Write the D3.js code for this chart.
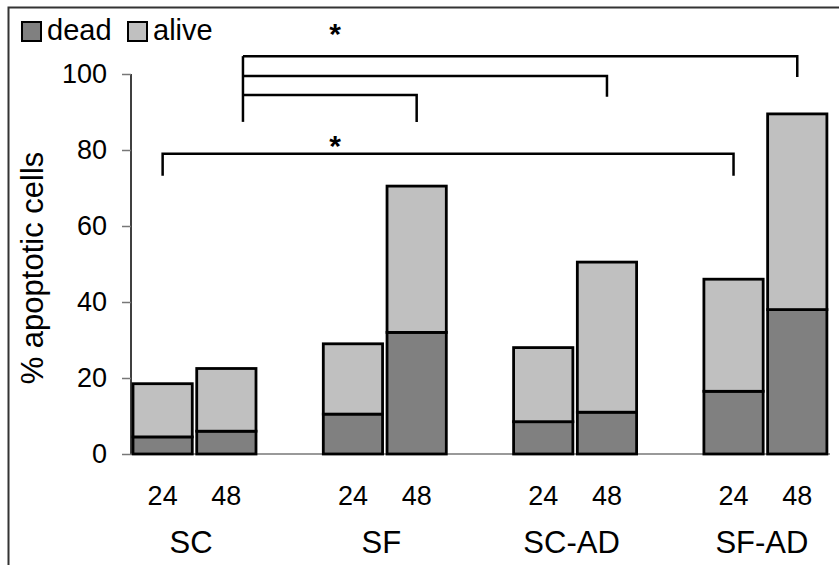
<!DOCTYPE html>
<html>
<head>
<meta charset="utf-8">
<script src="https://cdn.jsdelivr.net/npm/d3@7"></script>
<style>
  body { margin: 0; background: #fff; }
  svg { font-family: "Liberation Sans", Arial, sans-serif; }
</style>
</head>
<body>
<div id="chart"></div>
<script>
let groups = ["SC", "SF", "SC-AD", "SF-AD"];
let times = ["24", "48"];
let dead  = [4.5, 6, 10.5, 32, 8.5, 11, 16.5, 38];
let total = [18.5, 22.5, 29, 70.5, 28, 50.5, 46, 89.5];
let yTicks = [0, 20, 40, 60, 80, 100];
// brackets: [group, time, frac] -> [group, time, frac], bar level, drop-to level, star level
let brackets = [
    {from: ["SC", "48", 0.78], to: ["SF-AD", "48", 0.5], y: 104.7, end: 99.2, star: 112.4},
    {from: ["SC", "48", 0.78], to: ["SC-AD", "48", 0.5], y: 99.5, end: 94, star: null},
    {from: ["SC", "48", 0.78], to: ["SF", "48", 0.5], y: 94.5, end: 87.4, star: null},
    {from: ["SC", "24", 0.5], to: ["SF-AD", "24", 0.5], y: 79, end: 73.2, star: 82.9}
];

let plotData = [];
groups.forEach((g, i) => times.forEach((t, j) => {
    let k = i * 2 + j;
    plotData.push({"group": g, "time": t, "dead": dead[k], "alive": total[k] - dead[k]});
}));

let width = 839, height = 565;
let svg = d3.select("#chart").append("svg")
    .attr("width", width).attr("height", height);

// outer frame
svg.append("rect")
    .attr("x", 8.5).attr("y", 7.5)
    .attr("width", 900).attr("height", 600)
    .attr("fill", "none").attr("stroke", "#333").attr("stroke-width", 2);

let y = d3.scaleLinear().domain([0, 100]).range([454, 74]);
let x0 = d3.scaleBand().domain(groups).range([133, 133 + 4 * 190.3]);
let x1 = d3.scaleBand().domain(times).range([0, 123]).paddingInner(0.07);
let bx = (g, t, f) => x0(g) + x1(t) + x1.bandwidth() * f;

// y axis
let yAxis = svg.append("g")
    .attr("transform", "translate(131,0)")
    .call(d3.axisLeft(y).tickValues(yTicks).tickSize(9).tickPadding(15));
yAxis.select(".domain").attr("stroke", "#000").attr("stroke-width", 1.5).attr("d", "M0,74V454");
yAxis.selectAll(".tick line").attr("stroke", "#777").attr("stroke-width", 1.5);
yAxis.selectAll(".tick text")
    .attr("font-size", 27).attr("fill", "#000")
    .attr("font-family", "Liberation Sans, Arial, sans-serif");

// base line
svg.append("line")
    .attr("x1", 131).attr("x2", 830)
    .attr("y1", y(0)).attr("y2", y(0))
    .attr("stroke", "#777").attr("stroke-width", 1.5);

// stacked bars
let stack = d3.stack().keys(["dead", "alive"])(plotData);
let colors = {"dead": "#808080", "alive": "#c0c0c0"};
svg.selectAll("g.layer")
    .data(stack)
    .join("g")
        .attr("class", "layer")
        .attr("fill", d => colors[d.key])
    .selectAll("rect")
    .data(d => d)
    .join("rect")
        .attr("x", d => x0(d.data.group) + x1(d.data.time))
        .attr("y", d => y(d[1]))
        .attr("width", x1.bandwidth())
        .attr("height", d => y(d[0]) - y(d[1]))
        .attr("stroke", "#000")
        .attr("stroke-width", 2.8);

// time labels
svg.selectAll("text.time")
    .data(plotData)
    .join("text")
        .attr("class", "time")
        .attr("text-anchor", "middle")
        .attr("font-size", 27)
        .attr("x", d => x0(d.group) + x1(d.time) + x1.bandwidth() / 2)
        .attr("y", 505)
        .text(d => d.time);

// group labels
svg.selectAll("text.group")
    .data(groups)
    .join("text")
        .attr("class", "group")
        .attr("text-anchor", "middle")
        .attr("font-size", 31)
        .attr("x", d => x0(d) + 58)
        .attr("y", 553)
        .text(d => d);

// y label
svg.append("text")
    .attr("transform", "translate(43,268) rotate(-90)")
    .attr("text-anchor", "middle")
    .attr("font-size", 31)
    .text("% apoptotic cells");

// significance brackets
brackets.forEach(b => {
    let xa = bx(...b.from), xb = bx(...b.to);
    let isTop = b.from[1] === "48";
    let pts = isTop
        ? [[xa, y(b.y)], [xb, y(b.y)], [xb, y(b.end)]]
        : [[xa, y(b.end)], [xa, y(b.y)], [xb, y(b.y)], [xb, y(b.end)]];
    svg.append("path")
        .attr("d", d3.line()(pts))
        .attr("fill", "none").attr("stroke", "#000").attr("stroke-width", 2.5);
    if (b.star !== null) {
        svg.append("text")
            .attr("x", 335).attr("y", y(b.star) + 17)
            .attr("text-anchor", "middle")
            .attr("font-size", 30).attr("font-weight", "bold")
            .text("*");
    }
});
// common left leg of top brackets
svg.append("line")
    .attr("x1", bx("SC", "48", 0.78)).attr("x2", bx("SC", "48", 0.78))
    .attr("y1", y(104.7)).attr("y2", y(87.4))
    .attr("stroke", "#000").attr("stroke-width", 2.5);

// legend
let legend = svg.append("g");
let legItems = [{k: "dead", x: 22}, {k: "alive", x: 128}];
legend.selectAll("rect")
    .data(legItems)
    .join("rect")
        .attr("x", d => d.x).attr("y", 22)
        .attr("width", 19).attr("height", 19)
        .attr("fill", d => colors[d.k])
        .attr("stroke", "#000").attr("stroke-width", 2);
legend.selectAll("text")
    .data(legItems)
    .join("text")
        .attr("x", d => d.x + 25).attr("y", 40)
        .attr("font-size", 29)
        .text(d => d.k);
</script>
</body>
</html>
